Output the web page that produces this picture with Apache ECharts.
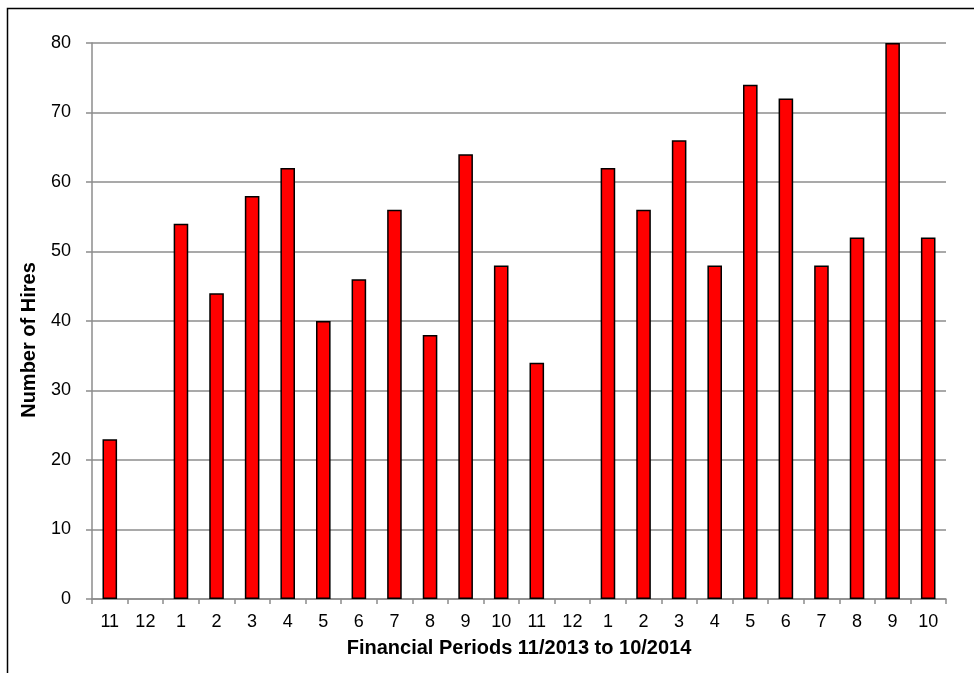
<!DOCTYPE html>
<html>
<head>
<meta charset="utf-8">
<script src="https://cdn.jsdelivr.net/npm/echarts@6/dist/echarts.min.js"></script>
<style>
  html, body { margin: 0; padding: 0; background: #fff; }
  #chart { width: 974px; height: 673px; }
</style>
</head>
<body>
<div id="chart"></div>
<script>
// Financial periods 11/2013 to 10/2014 (two-year span shown)
const periods = ['11', '12', '1', '2', '3', '4', '5', '6', '7', '8', '9', '10',
                 '11', '12', '1', '2', '3', '4', '5', '6', '7', '8', '9', '10'];
const hires = [23, 0, 54, 44, 58, 62, 40, 46, 56, 38, 64, 48,
               34, 0, 62, 56, 66, 48, 74, 72, 48, 52, 80, 52];
const yTicks = { min: 0, max: 80, step: 10 };

const chart = echarts.init(document.getElementById('chart'), null, { renderer: 'canvas' });
const font = 'Arial, "Liberation Sans", sans-serif';

// empty periods get no outline so nothing shows on the baseline
const barData = hires.map(v => v === 0 ? { value: v, itemStyle: { borderWidth: 0 } } : v);

chart.setOption({
  animation: false,
  backgroundColor: '#ffffff',
  graphic: [{
    type: 'rect',
    shape: { x: 7.5, y: 8.5, width: 1000, height: 700 },
    style: { fill: 'none', stroke: '#000', lineWidth: 1.5 },
    silent: true
  }],
  grid: { left: 92, right: 28, top: 43, bottom: 74, containLabel: false },
  xAxis: {
    type: 'category',
    data: periods,
    name: 'Financial Periods 11/2013 to 10/2014',
    nameLocation: 'middle',
    nameGap: 39,
    nameTextStyle: { fontFamily: font, fontSize: 20, fontWeight: 'bold', color: '#000' },
    axisLine: { lineStyle: { color: '#8c8c8c', width: 1.5 } },
    axisTick: { show: true, length: 5, alignWithLabel: false, lineStyle: { color: '#8c8c8c', width: 1.5 } },
    axisLabel: { fontFamily: font, fontSize: 18, color: '#000', margin: 14, interval: 0 },
    splitLine: { show: false }
  },
  yAxis: {
    type: 'value',
    min: yTicks.min,
    max: yTicks.max,
    interval: yTicks.step,
    name: 'Number of Hires',
    nameLocation: 'middle',
    nameGap: 53,
    nameRotate: 90,
    // title sits a little below the plot's vertical centre
    nameTextStyle: { fontFamily: font, fontSize: 20, fontWeight: 'bold', color: '#000', padding: [0, 38, 0, 0] },
    axisLine: { show: true, lineStyle: { color: '#8c8c8c', width: 1.5 } },
    axisTick: { show: true, length: 6, lineStyle: { color: '#8c8c8c', width: 1.5 } },
    axisLabel: { fontFamily: font, fontSize: 18, color: '#000', margin: 21 },
    splitLine: { show: true, lineStyle: { color: '#8c8c8c', width: 1.5 } }
  },
  series: [{
    type: 'bar',
    data: barData,
    barWidth: '41%',
    itemStyle: { color: '#ff0000', borderColor: '#000', borderWidth: 1.5 }
  }]
});
</script>
</body>
</html>
